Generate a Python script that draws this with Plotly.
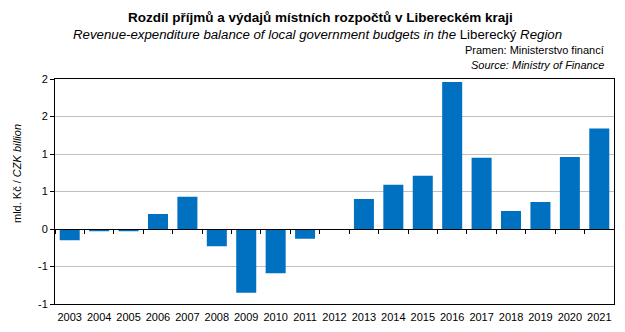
import plotly.graph_objects as go

years = [str(y) for y in range(2003, 2022)]
values = [-0.15, -0.03, -0.03, 0.20, 0.43, -0.23, -0.85, -0.59, -0.13, 0.0,
          0.40, 0.59, 0.71, 1.96, 0.95, 0.24, 0.36, 0.96, 1.34]
ytick_vals = [-1, -0.5, 0, 0.5, 1, 1.5, 2]
ytick_text = ["-1", "-1", "0", "1", "1", "2", "2"]

FONT = "Liberation Sans, Arial, sans-serif"
ymin, ymax = -1, 2

fig = go.Figure()
fig.add_trace(go.Bar(x=years, y=values, marker_color="#0070C0", marker_line_width=0,
                     showlegend=False))
# invisible trace for the zero-line axis with boundary ticks
fig.add_trace(go.Bar(x=years, y=[None]*len(years), xaxis="x2", showlegend=False))

fig.update_layout(
    width=625, height=332,
    margin=dict(l=55, r=11, t=79, b=28, autoexpand=False),
    paper_bgcolor="white", plot_bgcolor="white",
    bargap=0.32,
    font=dict(family=FONT, size=11, color="black"),
    xaxis=dict(type="category", showgrid=False, ticks="", showline=True, linecolor="black",
               linewidth=1, mirror=True, tickfont=dict(size=11), ticklabelstandoff=3,
               range=[-0.5, 18.5], automargin=False),
    xaxis2=dict(type="category", overlaying="x", anchor="free", position=(0 - ymin) / (ymax - ymin),
                matches="x", showticklabels=False, ticks="outside", ticklen=4, tickcolor="black",
                tickson="boundaries", showline=True, linecolor="black", linewidth=1,
                showgrid=False, zeroline=False, automargin=False),
    yaxis=dict(range=[ymin, ymax], tickvals=ytick_vals, ticktext=ytick_text,
               showgrid=True, gridcolor="#C0C0C0", gridwidth=1, zeroline=False,
               showline=True, linecolor="black", linewidth=1, mirror=True,
               ticks="outside", ticklen=4, tickcolor="black", tickfont=dict(size=11),
               automargin=False),
)

# Titles (positioned in pixels relative to plot area top)
fig.add_annotation(text="<b>Rozdíl příjmů a výdajů místních rozpočtů v Libereckém kraji</b>",
                   xref="paper", yref="paper", x=0.5, y=1, xanchor="center", yanchor="middle",
                   showarrow=False, font=dict(size=13.5), xshift=-14.5, yshift=79 - 17)
fig.add_annotation(text="<i>Revenue-expenditure balance of local government budgets in the </i>Liberecký<i> Region</i>",
                   xref="paper", yref="paper", x=0.5, y=1, xanchor="center", yanchor="middle",
                   showarrow=False, font=dict(size=13.25), xshift=-17.5, yshift=79 - 34)
fig.add_annotation(text="Pramen: Ministerstvo financí",
                   xref="paper", yref="paper", x=1, y=1, xanchor="right", yanchor="middle",
                   showarrow=False, font=dict(size=11), xshift=-8, yshift=79 - 50)
fig.add_annotation(text="<i>Source: Ministry of Finance</i>",
                   xref="paper", yref="paper", x=1, y=1, xanchor="right", yanchor="middle",
                   showarrow=False, font=dict(size=11), xshift=-8, yshift=79 - 65)
# y-axis title
fig.add_annotation(text="mld. Kč / <i>CZK billion</i>", textangle=-90,
                   xref="paper", yref="paper", x=0, y=1, xanchor="center", yanchor="middle",
                   showarrow=False, font=dict(size=11), xshift=-(55 - 17), yshift=-(174 - 79))

fig.write_html("out.html")
